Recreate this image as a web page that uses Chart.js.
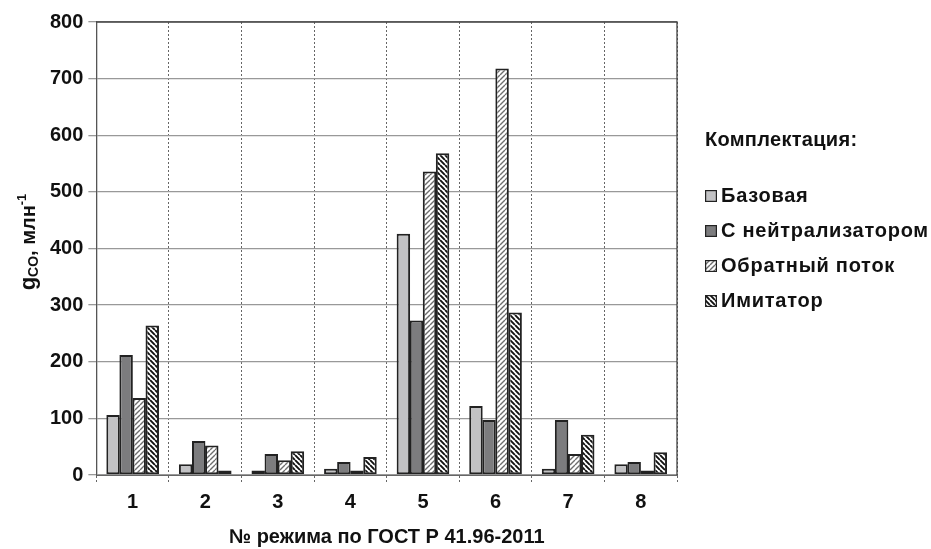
<!DOCTYPE html>
<html>
<head>
<meta charset="utf-8">
<script src="https://cdn.jsdelivr.net/npm/chart.js@4"></script>
<style>
  body { margin: 0; background: #fff; }
  #wrap { position: relative; width: 931px; height: 549px; }
  #legend { position: absolute; left: 705px; top: 128px; font: bold 20px "Liberation Sans", Arial, sans-serif; color: #111; line-height: 23px; }
  #legend .ttl { margin-bottom: 27px; letter-spacing: 0.3px; }
  #legend .item { display: flex; align-items: center; height: 35px; letter-spacing: 0.75px; }
  #legend canvas { margin-right: 4px; }
</style>
</head>
<body>
<div id="wrap">
  <canvas id="chart" width="931" height="549"></canvas>
  <div id="legend"></div>
</div>
<script>
// categories and series
const modes = ['1', '2', '3', '4', '5', '6', '7', '8'];
const seriesNames = ['Базовая', 'С нейтрализатором', 'Обратный поток', 'Имитатор'];
const baseVals = [106, 19, 8, 11, 426, 122, 11, 19];
const neutrVals = [212, 60, 37, 23, 273, 97, 97, 23];
const backflowVals = [136, 52, 26, 8, 536, 718, 37, 8];
const imitVals = [264, 8, 42, 32, 568, 287, 71, 40];
const yTicks = [0, 100, 200, 300, 400, 500, 600, 700, 800];

const FONT = '"Liberation Sans", Arial, sans-serif';

// diagonal hatch pattern: dir 1 = "/", -1 = "\"
function hatch(color, lineW, size, dir) {
    const c = document.createElement('canvas');
    c.width = size; c.height = size;
    const g = c.getContext('2d');
    g.fillStyle = '#fff';
    g.fillRect(0, 0, size, size);
    g.strokeStyle = color;
    g.lineWidth = lineW;
    g.beginPath();
    for (let k = -1; k <= 1; k++) {
        if (dir > 0) {
            g.moveTo(k * size, size);
            g.lineTo(k * size + size, 0);
        } else {
            g.moveTo(k * size, 0);
            g.lineTo(k * size + size, size);
        }
    }
    g.stroke();
    return g.createPattern(c, 'repeat');
}

const fills = [
    '#c2c2c4',
    '#7c7c7e',
    hatch('#6e6e6e', 1.4, 5, 1),
    hatch('#111', 1.9, 5, -1)
];
const seriesVals = [baseVals, neutrVals, backflowVals, imitVals];

// legend built from the same series
const legend = document.getElementById('legend');
legend.innerHTML = '<div class="ttl">Комплектация:</div>';
seriesNames.forEach((name, i) => {
    const row = document.createElement('div');
    row.className = 'item';
    const box = document.createElement('canvas');
    box.width = 12; box.height = 12;
    const bx = box.getContext('2d');
    bx.fillStyle = fills[i];
    bx.fillRect(0, 0, 12, 12);
    bx.strokeStyle = '#222';
    bx.lineWidth = 1.2;
    bx.strokeRect(0.6, 0.6, 10.8, 10.8);
    row.appendChild(box);
    row.appendChild(document.createTextNode(name));
    legend.appendChild(row);
});

// frame on top/right plus rotated y title with sub/superscript
const extras = {
    id: 'extras',
    afterDraw(chart) {
        const { ctx, chartArea: a } = chart;
        ctx.save();
        ctx.strokeStyle = '#444';
        ctx.lineWidth = 1.3;
        ctx.beginPath();
        ctx.moveTo(a.left, a.top);
        ctx.lineTo(a.right, a.top);
        ctx.lineTo(a.right, a.bottom);
        ctx.stroke();

        ctx.translate(28, 242);
        ctx.rotate(-Math.PI / 2);
        ctx.fillStyle = '#111';
        ctx.textBaseline = 'alphabetic';
        const parts = [
            { t: 'g', f: 'bold 22px ' + FONT, dy: 0 },
            { t: 'CO', f: 'bold 14px ' + FONT, dy: 3 },
            { t: ', млн', f: 'bold 20px ' + FONT, dy: 0 },
            { t: '-1', f: 'bold 13px ' + FONT, dy: -9 }
        ];
        let w = 0;
        parts.forEach(p => { ctx.font = p.f; p.w = ctx.measureText(p.t).width; w += p.w; });
        let x = -w / 2;
        parts.forEach(p => {
            ctx.font = p.f;
            ctx.fillText(p.t, x, 7 + p.dy);
            x += p.w;
        });
        ctx.restore();
    }
};

new Chart(document.getElementById('chart'), {
    type: 'bar',
    data: {
        labels: modes,
        datasets: seriesNames.map((name, i) => ({
            label: name,
            data: seriesVals[i],
            backgroundColor: fills[i],
            borderColor: '#222',
            borderWidth: 2,
            borderSkipped: false,
            barPercentage: 1.03,
            categoryPercentage: 0.72
        }))
    },
    options: {
        responsive: false,
        animation: false,
        layout: { padding: { left: 45, right: 254, top: 22, bottom: 0 } },
        plugins: { legend: { display: false }, tooltip: { enabled: false } },
        scales: {
            x: {
                grid: {
                    offset: true,
                    color: '#666',
                    lineWidth: 1,
                    tickLength: 9,
                    tickBorderDash: [2, 2]
                },
                border: { display: true, color: '#666', dash: [2, 2] },
                ticks: { color: '#111', font: { family: FONT, size: 20, weight: 'bold' }, padding: 6 },
                title: {
                    display: true,
                    text: '№ режима по ГОСТ Р 41.96-2011',
                    color: '#111',
                    font: { family: FONT, size: 20, weight: 'bold' },
                    padding: { top: 5, bottom: 0 }
                }
            },
            y: {
                min: 0,
                max: 800,
                afterBuildTicks(axis) { axis.ticks = yTicks.map(v => ({ value: v })); },
                grid: { color: '#999', lineWidth: 1.3, tickLength: 8 },
                border: { display: true, color: '#555', width: 1.3 },
                ticks: { color: '#111', font: { family: FONT, size: 20, weight: 'bold' }, padding: 5 }
            }
        }
    },
    plugins: [extras]
});
</script>
</body>
</html>
